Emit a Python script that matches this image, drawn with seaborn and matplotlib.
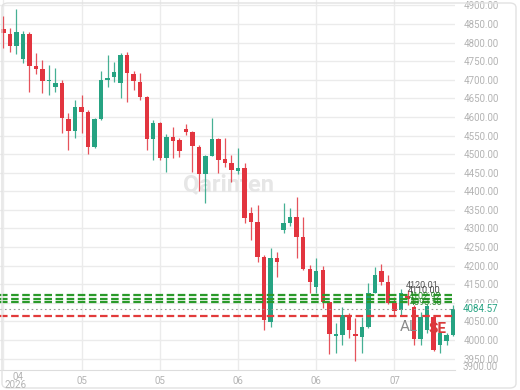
import matplotlib
matplotlib.use("Agg")
import matplotlib.pyplot as plt
import seaborn as sns
import numpy as np
import pandas as pd
from matplotlib.patches import FancyBboxPatch

# ---- data ----
opens = [4836.6, 4823, 4791.6, 4755, 4822.3, 4737, 4729, 4696.7, 4679.7, 4690.5,
         4594.4, 4563, 4626, 4614, 4520, 4594.4, 4699.4, 4707.4, 4691.3, 4766.6,
         4715.5, 4694.8, 4653.6, 4540.7, 4583.7, 4489.5, 4546, 4538, 4567.5, 4559.4,
         4519, 4446.5, 4494.9, 4540.7, 4486.9, 4476.2, 4454.6, 4462.6, 4341.6, 4317.4,
         4223.2, 4048.4, 4220.5, 4295.9, 4314.7, 4330.8, 4277, 4191, 4142.5, 4188.3,
         4102.2, 4011.4, 4013.4, 4064.5, 4016, 4008, 4035, 4126.4, 4185.6, 4156,
         4099.5, 4080.7, 4118, 4088.7, 4002.7, 4027, 4061.8, 3986.5, 3997.2, 4013.4]
highs = [4871.5, 4838.4, 4889.5, 4831, 4829, 4772.8, 4753, 4739.7, 4730.8, 4699.4,
         4609.8, 4645.6, 4659, 4618.7, 4596.3, 4723.6, 4766.6, 4747.8, 4772, 4774.7,
         4723.6, 4718, 4656, 4591.8, 4586.4, 4554, 4573, 4543.3, 4581, 4561,
         4524.5, 4497.6, 4597, 4543, 4543.3, 4497.6, 4516.4, 4476, 4357.7, 4363,
         4228.6, 4247.4, 4236.7, 4368.5, 4355, 4384.6, 4330.8, 4201.7, 4220.5, 4199,
         4104, 4045.7, 4088.7, 4072.6, 4059, 4062, 4153.3, 4196.3, 4204.4, 4174.8,
         4115.6, 4137, 4134, 4094, 4075.2, 4097, 4061.8, 4021.5, 4018.8, 4094]
lows = [4786, 4774, 4769, 4746, 4668, 4715.5, 4663.6, 4659, 4668, 4556,
        4511, 4542.5, 4558, 4500, 4515.8, 4591.7, 4680.5, 4694, 4651, 4640,
        4672.5, 4645.6, 4511, 4484, 4484, 4452.7, 4489.5, 4492.2, 4551.3, 4452,
        4400.8, 4368.5, 4494, 4449.2, 4465.4, 4425, 4446.5, 4314.7, 4269, 4209.8,
        4026.9, 4035, 4169.4, 4287.8, 4306.6, 4220.5, 4188, 4126.4, 4126.4, 4086,
        3962, 3965, 3986.5, 4005.4, 3944, 3965, 4032, 4126, 4148, 4097,
        4067, 4067, 4094, 3986.5, 3986.5, 4020, 3970, 3965, 3986.5, 4010]
closes = [4825, 4791.6, 4827.7, 4822.3, 4737.8, 4729, 4696.7, 4700, 4690.5, 4596.3,
          4563, 4626, 4612.5, 4520, 4593.6, 4699.4, 4704.7, 4720.9, 4766.6, 4718.2,
          4696.7, 4653.6, 4540.7, 4583.7, 4489.5, 4546, 4535.3, 4508.4, 4559.4, 4521.8,
          4446.5, 4494.9, 4540.7, 4484.2, 4476.2, 4457.3, 4462.6, 4328.1, 4317.4, 4223.2,
          4053.8, 4220.5, 4209.8, 4314.7, 4330.8, 4277, 4191, 4156, 4185.6, 4102.2,
          4016.1, 4016, 4067.2, 4026.9, 4011.4, 4035, 4126.4, 4174.8, 4156, 4099.5,
          4078, 4126.4, 4110, 4002.7, 4061.8, 4091, 3973, 4018.8, 4013.4, 4084.57]

x_tick_pos = [0, 12, 24, 36, 48, 60]
x_tick_labels = ["04", "05", "05", "06", "06", "07"]
y_ticks = [3950, 4000, 4050, 4100, 4150, 4200, 4250, 4300, 4350, 4400,
           4450, 4500, 4550, 4600, 4650, 4700, 4750, 4800, 4850, 4900]

green_levels = [4120.01, 4111.0, 4101.0]
red_level = 4065.0
last_price = 4084.57

df = pd.DataFrame({"open": opens, "high": highs, "low": lows, "close": closes})
df["idx"] = np.arange(len(df))
df["up"] = df["close"] >= df["open"]

sns.set_theme(style="white")
plt.rcParams["font.family"] = ["Roboto", "DejaVu Sans"]

UP = "#26a382"
DOWN = "#e2353f"
TICK = "#b3b3b3"
GRID = "#ebebeb"

W, H = 520, 390
fig = plt.figure(figsize=(W / 100, H / 100), dpi=100)
ax = fig.add_axes([0, 20 / H, 455 / W, 370 / H])

ax.set_xlim(-0.506, 69.28)
ax.set_ylim(3919.3, 4914.6)

# grid
for yt in y_ticks:
    ax.axhline(yt, color=GRID, lw=1.0, zorder=0)
for xt in x_tick_pos:
    ax.axvline(xt, color=GRID, lw=1.0, zorder=0)

colors = [UP if u else DOWN for u in df["up"]]
# wicks
ax.vlines(df["idx"], df["low"], df["high"], colors=colors, lw=0.9, alpha=0.85, zorder=2)
# bodies
body_bottom = np.minimum(df["open"], df["close"])
body_h = np.maximum(np.abs(df["close"] - df["open"]), 3.0)
ax.bar(df["idx"], body_h, bottom=body_bottom, width=0.68, color=colors, linewidth=0, zorder=3)

# level lines
for lv in green_levels:
    ax.axhline(lv, color="#2a9a2a", lw=1.6, ls=(0, (3.4, 1.6)), zorder=4)
ax.axhline(last_price, color="#9a9a9a", lw=0.8, ls=(0, (1.5, 2.5)), zorder=4)
ax.axhline(red_level, color="#e23b3b", lw=1.6, ls=(0, (3.4, 1.6)), zorder=4)

# annotations around the levels
ax.text(64.3, 4147, "4120.01", fontsize=6.5, color="#555555", ha="center", va="center", zorder=6)
ax.text(64.5, 4132, "4110.00", fontsize=6.5, color="#444444", ha="center", va="center", zorder=6)
ax.text(64.7, 4117, "4102.92", fontsize=6.5, color="#2a8a2a", ha="center", va="center", zorder=6)
ax.text(64.9, 4101, "4093.50", fontsize=6.5, color="#2a8a2a", ha="center", va="center", zorder=6)
ax.text(62.2, 4035, "AL", fontsize=11, color="#8a8a8a", ha="center", va="center", zorder=6)
ax.text(66.6, 4030, "SE", fontsize=11, color="#d83a3a", fontweight="bold", ha="center", va="center", zorder=6)

# watermark
ax.text(34.5, 4417, "Qarinten", fontsize=17, color="#e6e6e6", fontweight="bold",
        ha="center", va="center", zorder=1)

for s in ax.spines.values():
    s.set_visible(False)
ax.spines["bottom"].set_visible(True)
ax.spines["bottom"].set_color("#dddddd")
ax.spines["bottom"].set_linewidth(0.8)

ax.yaxis.tick_right()
ax.set_yticks(y_ticks)
ax.set_yticklabels([f"{v:.2f}" for v in y_ticks], fontsize=7, color=TICK)
ax.tick_params(axis="y", length=0, pad=6)
ax.set_xticks(x_tick_pos)
ax.set_xticklabels([""] + x_tick_labels[1:], fontsize=7, color=TICK)
ax.tick_params(axis="x", length=0, pad=4)
ax.grid(False)

# first x label with year, clamped to left edge
fig.text(18 / W, 1 - 377 / H, x_tick_labels[0], fontsize=7, color=TICK, ha="center", va="center")
fig.text(16 / W, 1 - 385 / H, "2026", fontsize=7, color=TICK, ha="center", va="center")
# clamped bottom y label
fig.text(463 / W, 1 - 367 / H, "3900.00", fontsize=7, color=TICK, ha="left", va="center")
# last price label (covers the tick label under it)
fig.text(463 / W, 1 - 309 / H, f"{last_price:.2f}", fontsize=7, color=UP, ha="left", va="center",
         bbox=dict(boxstyle="square,pad=0.15", facecolor="white", edgecolor="none"), zorder=10)

# outer rounded frame
frame = FancyBboxPatch((2 / W, 2 / H), 514 / W, 385 / H, boxstyle="round,pad=0,rounding_size=0.012",
                       transform=fig.transFigure, fill=False, edgecolor="#e2e2e2", lw=1.0)
fig.patches.append(frame)

fig.savefig("out.png", dpi=100)
